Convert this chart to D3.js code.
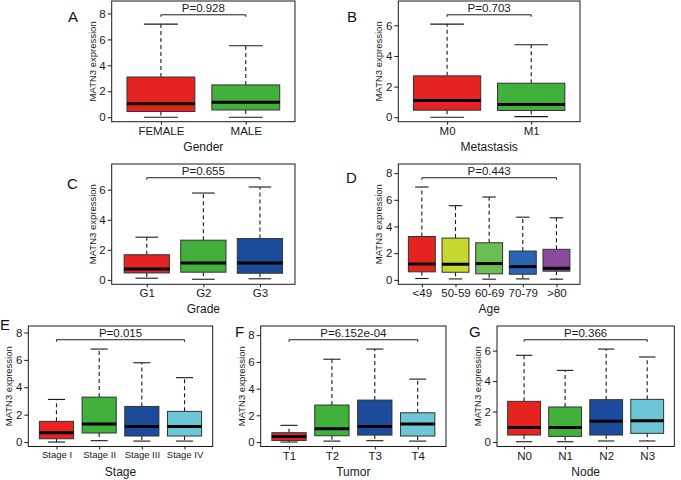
<!DOCTYPE html>
<html>
<head>
<meta charset="utf-8">
<script src="https://cdn.jsdelivr.net/npm/d3@7"></script>
<style>
  body { margin: 0; background: #fff; }
  svg { display: block; font-family: "Liberation Sans", Arial, sans-serif; }
</style>
</head>
<body>
<svg id="chart" width="681" height="480"></svg>
<script>
// Box statistics per group: [lower whisker, Q1, median, Q3, upper whisker]
const genderCats = ["FEMALE", "MALE"];
const genderStats = [[0, 0.44, 1.03, 3.10, 7.18], [0, 0.56, 1.15, 2.49, 5.51]];

const metaCats = ["M0", "M1"];
const metaStats = [[0, 0.46, 1.09, 2.70, 6.08], [0.04, 0.44, 0.83, 2.22, 4.73]];

const gradeCats = ["G1", "G2", "G3"];
const gradeStats = [
  [0.11, 0.46, 0.73, 1.67, 2.84],
  [0.04, 0.51, 1.12, 2.64, 5.78],
  [0.07, 0.44, 1.12, 2.75, 6.18]
];

const ageCats = ["<49", "50-59", "60-69", "70-79", ">80"];
const ageStats = [
  [0.10, 0.60, 1.19, 3.25, 6.96],
  [0.07, 0.57, 1.17, 3.13, 5.56],
  [0.05, 0.45, 1.22, 2.78, 6.21],
  [0.07, 0.42, 0.99, 2.16, 4.70],
  [0.05, 0.65, 0.87, 2.29, 4.65]
];

const stageCats = ["Stage I", "Stage II", "Stage III", "Stage IV"];
const stageStats = [
  [0, 0.24, 0.68, 1.51, 3.11],
  [0.10, 0.66, 1.31, 3.28, 6.79],
  [0.07, 0.44, 1.14, 2.60, 5.79],
  [0.07, 0.44, 1.14, 2.24, 4.70]
];

const tumorCats = ["T1", "T2", "T3", "T4"];
const tumorStats = [
  [0, 0.12, 0.42, 0.70, 1.25],
  [0.07, 0.47, 1.00, 2.77, 6.20],
  [0.10, 0.52, 1.17, 3.14, 6.96],
  [0.07, 0.45, 1.35, 2.19, 4.71]
];

const nodeCats = ["N0", "N1", "N2", "N3"];
const nodeStats = [
  [0.02, 0.46, 0.96, 2.67, 5.69],
  [0.02, 0.37, 0.96, 2.30, 4.70],
  [0.07, 0.46, 1.36, 2.78, 6.10],
  [0.07, 0.57, 1.40, 2.80, 5.58]
];

const pValues = ["P=0.928", "P=0.703", "P=0.655", "P=0.443", "P=0.015", "P=6.152e-04", "P=0.366"];

const pal4 = ["#e52320", "#42b13b", "#1d4b9b", "#6cc6d6"];
const agePal = ["#e52320", "#c6d82f", "#6bbd55", "#2a65b3", "#8b4b9b"];

// panel layout (plot region in px)
const panels = [
  { letter: "A", cats: genderCats, stats: genderStats, p: pValues[0], title: "Gender", colors: pal4,
    x0: 111.7, x1: 295, y0: 1, y1: 121.7, lx: 68, ly: 22 },
  { letter: "B", cats: metaCats, stats: metaStats, p: pValues[1], title: "Metastasis", colors: pal4,
    x0: 398.3, x1: 580, y0: 1, y1: 121.7, lx: 347, ly: 22 },
  { letter: "C", cats: gradeCats, stats: gradeStats, p: pValues[2], title: "Grade", colors: pal4,
    x0: 111.7, x1: 295, y0: 164, y1: 284.3, lx: 67, ly: 189 },
  { letter: "D", cats: ageCats, stats: ageStats, p: pValues[3], title: "Age", colors: agePal,
    x0: 398.3, x1: 580, y0: 164, y1: 284.3, lx: 346, ly: 183 },
  { letter: "E", cats: stageCats, stats: stageStats, p: pValues[4], title: "Stage", colors: pal4,
    x0: 28.3, x1: 212.7, y0: 326, y1: 446.5, lx: 0, ly: 330, tickSize: 9.5 },
  { letter: "F", cats: tumorCats, stats: tumorStats, p: pValues[5], title: "Tumor", colors: pal4,
    x0: 260.7, x1: 446, y0: 326, y1: 446.5, lx: 235, ly: 337 },
  { letter: "G", cats: nodeCats, stats: nodeStats, p: pValues[6], title: "Node", colors: pal4,
    x0: 497, x1: 674.3, y0: 326, y1: 446.5, lx: 469, ly: 337 }
];

const svg = d3.select("#chart");
const ink = "#1a1a1a";

panels.forEach(pn => {
  const n = pn.cats.length;
  const g = svg.append("g");

  // base R style padding: 4% on each side
  const x = d3.scaleLinear()
    .domain([0.5 - 0.04 * n, n + 0.5 + 0.04 * n])
    .range([pn.x0, pn.x1]);

  const hiMax = d3.max(pn.stats, d => d[4]);
  const R = hiMax * 1.2;
  const y = d3.scaleLinear()
    .domain([-0.04 * R, 1.04 * R])
    .range([pn.y1, pn.y0]);

  const half = 0.4; // box half-width in x units

  // boxes
  pn.stats.forEach((s, i) => {
    const cx = x(i + 1);
    const [lo, q1, med, q3, hi] = s;
    const bx0 = x(i + 1 - half), bx1 = x(i + 1 + half);
    const cap0 = x(i + 1 - half / 2), cap1 = x(i + 1 + half / 2);

    // whiskers (dashed)
    g.append("line")
      .attr("x1", cx).attr("x2", cx)
      .attr("y1", y(q3)).attr("y2", y(hi))
      .attr("stroke", ink).attr("stroke-width", 1.1)
      .attr("stroke-dasharray", "4,3");
    g.append("line")
      .attr("x1", cx).attr("x2", cx)
      .attr("y1", y(q1)).attr("y2", y(lo))
      .attr("stroke", ink).attr("stroke-width", 1.1)
      .attr("stroke-dasharray", "4,3");

    // staples
    [lo, hi].forEach(v => {
      g.append("line")
        .attr("x1", cap0).attr("x2", cap1)
        .attr("y1", y(v)).attr("y2", y(v))
        .attr("stroke", ink).attr("stroke-width", 1.1);
    });

    g.append("rect")
      .attr("x", bx0).attr("y", y(q3))
      .attr("width", bx1 - bx0).attr("height", y(q1) - y(q3))
      .attr("fill", pn.colors[i])
      .attr("stroke", "#333").attr("stroke-width", 1);

    g.append("line")
      .attr("x1", bx0).attr("x2", bx1)
      .attr("y1", y(med)).attr("y2", y(med))
      .attr("stroke", "#000").attr("stroke-width", 3);
  });

  // frame
  g.append("rect")
    .attr("x", pn.x0).attr("y", pn.y0)
    .attr("width", pn.x1 - pn.x0).attr("height", pn.y1 - pn.y0)
    .attr("fill", "none").attr("stroke", ink).attr("stroke-width", 1);

  // y axis
  const yTicks = d3.range(0, 1.04 * R + 0.001, 2);
  const yAxis = d3.axisLeft(y).tickValues(yTicks).tickSize(4).tickPadding(2).tickFormat(d3.format("d"));
  const ya = g.append("g").attr("transform", `translate(${pn.x0},0)`).call(yAxis);
  ya.select(".domain").remove();
  ya.selectAll("line").attr("stroke", ink);
  ya.selectAll("text").attr("fill", ink).style("font-size", "11.5px").style("font-family", "Liberation Sans, Arial, sans-serif");

  // x axis
  const xAxis = d3.axisBottom(x).tickValues(d3.range(1, n + 1)).tickSize(3).tickPadding(2)
    .tickFormat(d => pn.cats[d - 1]);
  const xa = g.append("g").attr("transform", `translate(0,${pn.y1})`).call(xAxis);
  xa.select(".domain").remove();
  xa.selectAll("line").attr("stroke", ink);
  xa.selectAll("text").attr("fill", ink)
    .style("font-size", (pn.tickSize || 11.5) + "px")
    .style("font-family", "Liberation Sans, Arial, sans-serif");

  // axis titles
  g.append("text")
    .attr("x", (pn.x0 + pn.x1) / 2).attr("y", pn.y1 + 29)
    .attr("text-anchor", "middle").attr("fill", ink)
    .style("font-size", "12px").text(pn.title);

  g.append("text")
    .attr("transform", `translate(${pn.x0 - 16},${(pn.y0 + pn.y1) / 2}) rotate(-90)`)
    .attr("text-anchor", "middle").attr("fill", ink)
    .style("font-size", "9.5px").text("MATN3 expression");

  // p-value bracket
  const by = y(hiMax * 1.1);
  const bx1 = x(1), bx2 = x(n);
  g.append("path")
    .attr("d", `M${bx1},${by + 2}V${by}H${bx2}V${by + 2}`)
    .attr("fill", "none").attr("stroke", ink).attr("stroke-width", 1);
  g.append("text")
    .attr("x", (bx1 + bx2) / 2).attr("y", by - 2.5)
    .attr("text-anchor", "middle").attr("fill", ink)
    .style("font-size", "11.5px").text(pn.p);

  // panel letter
  g.append("text")
    .attr("x", pn.lx).attr("y", pn.ly)
    .attr("fill", "#111")
    .style("font-size", "15px").text(pn.letter);
});
</script>
</body>
</html>
